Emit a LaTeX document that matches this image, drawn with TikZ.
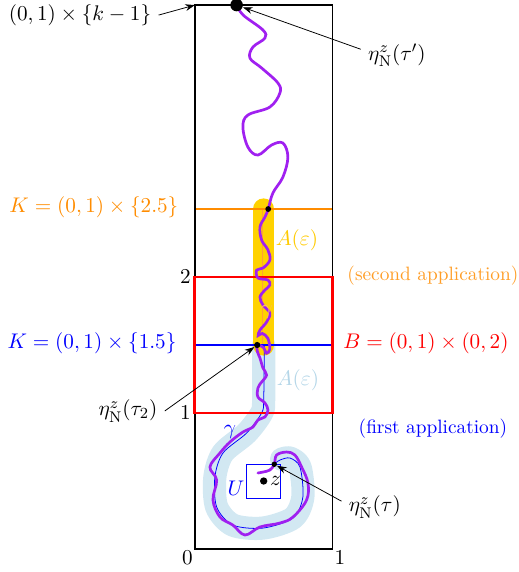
\documentclass[11pt,tikz,border=0pt]{standalone}
\usepackage{amsmath,amssymb}
\usetikzlibrary{arrows.meta}
\definecolor{bandyellow}{RGB}{255,210,0}
\definecolor{bandblue}{RGB}{210,232,242}
\definecolor{textlightblue}{RGB}{180,214,232}
\definecolor{korange}{RGB}{255,140,0}
\definecolor{pathpurple}{RGB}{160,32,240}

\begin{document}
\begin{tikzpicture}[x=2.5cm, y=2.473cm,
    pointer/.style={-{Stealth[length=5pt, width=3.5pt]}, thin},
    dotmark/.style={circle, fill, inner sep=0pt, minimum size=#1}]
    \useasboundingbox (-1.418, -0.169) rectangle (2.356, 4.037);
    % points on the path
    \coordinate (tauprime) at (0.303, 4);
    \coordinate (hitorange) at (0.533, 2.5);
    \coordinate (tautwo) at (0.453, 1.5);
    \coordinate (tau) at (0.577, 0.623);
    \coordinate (zpt) at (0.5, 0.5);
    \coordinate (corner) at (0, 4);
    % neighbourhoods A(eps)
    \draw[bandblue, line width=12pt, line cap=round, line join=round] plot[smooth] coordinates {(0.5, 1.5) (0.5, 1.1) (0.485, 1.0) (0.376, 0.853) (0.204, 0.706) (0.145, 0.529) (0.158, 0.309) (0.276, 0.176) (0.495, 0.154) (0.713, 0.228) (0.785, 0.382) (0.764, 0.603) (0.691, 0.669) (0.63, 0.66)};
    \draw[bandyellow, line width=11pt, line cap=round] (0.5, 2.5) -- (0.5, 1.5);
    % gamma
    \draw[korange!80, thin] (0.49, 2.5) -- (0.49, 1.5);
    \draw[blue, thin] plot[smooth] coordinates {(0.505, 1.5) (0.5, 1.1) (0.485, 1.0) (0.376, 0.853) (0.204, 0.706) (0.145, 0.529) (0.158, 0.309) (0.276, 0.176) (0.495, 0.154) (0.713, 0.228) (0.785, 0.382) (0.764, 0.603) (0.691, 0.669) (0.618, 0.654) (tau)};
    % lines K and boxes
    \draw[korange, line width=1.1pt] (0, 2.5) -- (1, 2.5);
    \draw[blue, line width=1.1pt] (0, 1.5) -- (1, 1.5);
    \draw[blue] (0.375, 0.375) rectangle (0.625, 0.625);
    \draw[line width=0.9pt] (0, 0) rectangle (1, 4);
    \draw[red, line width=1.5pt] (0, 1) rectangle (1, 2);
    % the path eta
    \draw[pathpurple, line width=1.4pt, line cap=round] plot[smooth, tension=0.6] coordinates {(tauprime) (0.351, 3.926) (0.495, 3.816) (0.509, 3.757) (0.422, 3.691) (0.4, 3.61) (0.485, 3.537) (0.604, 3.426) (0.618, 3.353) (0.545, 3.25) (0.385, 3.191) (0.349, 3.103) (0.385, 2.956) (0.458, 2.897) (0.558, 2.971) (0.64, 2.985) (0.676, 2.882) (0.64, 2.735) (0.567, 2.618) (hitorange) (0.509, 2.441) (0.473, 2.368) (0.485, 2.272) (0.531, 2.199) (0.545, 2.125) (0.495, 2.066) (0.449, 2.051) (0.458, 1.993) (0.531, 1.978) (0.545, 1.941) (0.509, 1.904) (0.473, 1.853) (0.495, 1.794) (0.545, 1.735) (0.521, 1.669) (0.473, 1.61) (0.46, 1.57) (0.49, 1.585) (0.53, 1.55) (0.545, 1.47) (0.52, 1.44) (0.5, 1.48) (tautwo) (0.455, 1.45) (0.473, 1.404) (0.495, 1.331) (0.521, 1.279) (0.485, 1.228) (0.458, 1.184) (0.458, 1.118) (0.509, 1.074) (0.531, 1.022) (0.509, 0.971) (0.458, 0.949) (0.422, 0.897) (0.349, 0.86) (0.255, 0.787) (0.182, 0.706) (0.109, 0.603) (0.158, 0.507) (0.131, 0.36) (0.182, 0.235) (0.276, 0.176) (0.364, 0.103) (0.473, 0.162) (0.618, 0.191) (0.713, 0.235) (0.812, 0.36) (0.822, 0.485) (0.776, 0.603) (0.727, 0.691) (0.667, 0.713) (0.594, 0.691) (tau) (0.545, 0.581) (0.495, 0.566) (0.458, 0.559)};
    % marked points
    \node[dotmark=6.5pt] (dtauprime) at (tauprime) {};
    \node[dotmark=3pt] (dorange) at (hitorange) {};
    \node[dotmark=3.2pt] (dtautwo) at (tautwo) {};
    \node[dotmark=2.8pt] (dtau) at (tau) {};
    \node[dotmark=3.8pt] (dz) at (zpt) {};
    % axis numbers
    \node[below left, inner sep=1pt] (zero) at (0, 0) {$0$};
    \node[below right, inner sep=1pt] (onex) at (1, 0) {$1$};
    \node[left, inner sep=2pt] (oney) at (0, 1) {$1$};
    \node[left, inner sep=2pt] (twoy) at (0, 2) {$2$};
    % labels
    \node (toplabel) at (-0.836, 3.926) {$(0,1)\times\{k-1\}$};
    \node (etatauprime) at (1.469, 3.632) {$\eta^z_{\mathrm{N}}(\tau')$};
    \node[korange] (Korange) at (-0.735, 2.515) {$K=(0,1)\times\{2.5\}$};
    \node[blue] (Kblue) at (-0.749, 1.515) {$K=(0,1)\times\{1.5\}$};
    \node (etatautwo) at (-0.487, 1.015) {$\eta^z_{\mathrm{N}}(\tau_2)$};
    \node (etatau) at (1.309, 0.309) {$\eta^z_{\mathrm{N}}(\tau)$};
    \node[korange!85, font=\small] (second) at (1.731, 2.007) {(second application)};
    \node[red] (Bbox) at (1.68, 1.515) {$B=(0,1)\times(0,2)$};
    \node[blue, font=\small] (first) at (1.731, 0.882) {(first application)};
    \node[bandyellow!90!orange] (Ayellow) at (0.742, 2.272) {$A(\varepsilon)$};
    \node[textlightblue] (Ablue) at (0.749, 1.243) {$A(\varepsilon)$};
    \node[korange!60, inner sep=0pt] (gammaorange) at (0.524, 1.743) {$\gamma$};
    \node[blue, inner sep=0pt] (gammablue) at (0.255, 0.86) {$\gamma$};
    \node[blue, inner sep=0pt] (Ulabel) at (0.298, 0.449) {$U$};
    \node[right, inner sep=1pt] (zlabel) at (dz.east) {$z$};
    % pointers
    \draw[pointer] (toplabel.east) -- (corner);
    \draw[pointer] ([yshift=3pt]etatauprime.west) -- (dtauprime);
    \draw[pointer] (etatautwo.east) -- (dtautwo);
    \draw[pointer] ([yshift=3pt]etatau.west) -- (dtau);
\end{tikzpicture}
\end{document}
